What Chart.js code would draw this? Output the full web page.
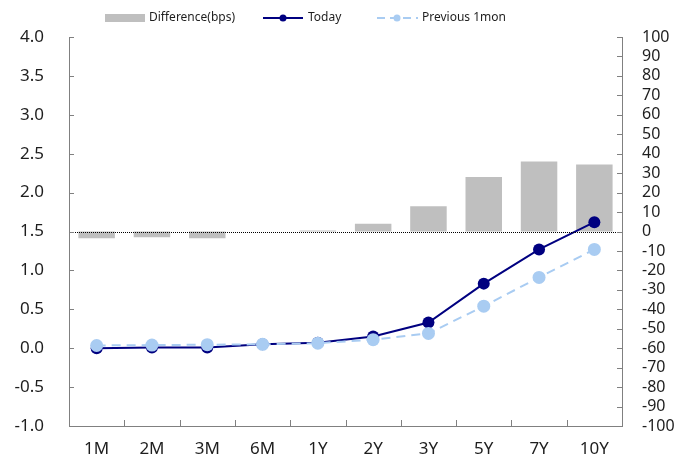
<!DOCTYPE html>
<html>
<head>
<meta charset="utf-8">
<script src="https://cdn.jsdelivr.net/npm/chart.js@4/dist/chart.umd.min.js"></script>
<style>
  html, body { margin: 0; padding: 0; background: #ffffff; }
  #wrap { width: 697px; height: 464px; position: relative; }
</style>
</head>
<body>
<div id="wrap"><canvas id="c" width="697" height="464"></canvas></div>
<script>
// Tenors along the curve
const tenors = ['1M', '2M', '3M', '6M', '1Y', '2Y', '3Y', '5Y', '7Y', '10Y'];
// Yields (%)
const today = [0.00, 0.01, 0.01, 0.05, 0.07, 0.15, 0.33, 0.83, 1.27, 1.62];
const prev1m = [0.035, 0.04, 0.045, 0.05, 0.065, 0.11, 0.19, 0.54, 0.91, 1.27];
// Change over the month (bps)
const diffBps = [-3.5, -3, -3.5, 0, 0.5, 4, 13, 28, 36, 34.5];

const legendLabels = ['Difference(bps)', 'Today', 'Previous 1mon'];

const FONT = "'Noto Sans', 'Open Sans', sans-serif";
const AXIS = '#808080';
const TEXT = '#1e1e1e';
const NAVY = '#000080';
const LIGHT = '#a9ccf2';
const GREY = '#bfbfbf';

// Inner tick marks, the zero line of the bps axis and the legend
const decor = {
  id: 'decor',
  afterDatasetsDraw(chart) {
    const { ctx, chartArea: a, scales } = chart;
    ctx.save();
    // dotted zero line for the difference bars
    const y0 = Math.round(scales.y2.getPixelForValue(0)) + 0.5;
    ctx.strokeStyle = '#000';
    ctx.lineWidth = 1;
    ctx.setLineDash([1, 1]);
    ctx.beginPath();
    ctx.moveTo(a.left, y0);
    ctx.lineTo(a.right, y0);
    ctx.stroke();
    ctx.setLineDash([]);
    ctx.restore();
  },
  afterDraw(chart) {
    const { ctx, chartArea: a, scales } = chart;
    ctx.save();
    ctx.strokeStyle = AXIS;
    ctx.lineWidth = 1;
    ctx.beginPath();
    scales.y.ticks.forEach((t, i) => {
      const y = Math.round(scales.y.getPixelForTick(i)) + 0.5;
      ctx.moveTo(a.left, y); ctx.lineTo(a.left + 5, y);
    });
    scales.y2.ticks.forEach((t, i) => {
      const y = Math.round(scales.y2.getPixelForTick(i)) + 0.5;
      ctx.moveTo(a.right, y); ctx.lineTo(a.right - 5, y);
    });
    for (let i = 1; i < tenors.length; i++) {
      const x = Math.round((scales.x.getPixelForValue(i - 1) + scales.x.getPixelForValue(i)) / 2) + 0.5;
      ctx.moveTo(x, a.bottom); ctx.lineTo(x, a.bottom - 6);
    }
    ctx.stroke();

    // legend
    const ly = 18;
    ctx.font = '12px ' + FONT;
    ctx.fillStyle = TEXT;
    ctx.textBaseline = 'middle';
    ctx.fillStyle = GREY;
    ctx.fillRect(105, 14, 40, 8);
    ctx.fillStyle = TEXT;
    ctx.fillText(legendLabels[0], 149, ly);

    ctx.strokeStyle = NAVY;
    ctx.lineWidth = 2;
    ctx.beginPath(); ctx.moveTo(263, ly); ctx.lineTo(303, ly); ctx.stroke();
    ctx.fillStyle = NAVY;
    ctx.beginPath(); ctx.arc(283, ly, 3.5, 0, Math.PI * 2); ctx.fill();
    ctx.fillStyle = TEXT;
    ctx.fillText(legendLabels[1], 308, ly);

    ctx.strokeStyle = LIGHT;
    ctx.setLineDash([8, 5]);
    ctx.beginPath(); ctx.moveTo(377, ly); ctx.lineTo(418, ly); ctx.stroke();
    ctx.setLineDash([]);
    ctx.fillStyle = LIGHT;
    ctx.beginPath(); ctx.arc(397, ly, 3.5, 0, Math.PI * 2); ctx.fill();
    ctx.fillStyle = TEXT;
    ctx.fillText(legendLabels[2], 422, ly);
    ctx.restore();
  }
};

new Chart(document.getElementById('c'), {
  type: 'bar',
  data: {
    labels: tenors,
    datasets: [
      {
        type: 'line', label: legendLabels[2], data: prev1m, yAxisID: 'y',
        borderColor: LIGHT, backgroundColor: LIGHT, borderWidth: 2, borderDash: [9, 6],
        pointRadius: 6.5, pointHoverRadius: 6.5, pointBackgroundColor: LIGHT, pointBorderWidth: 0,
        order: 1, tension: 0
      },
      {
        type: 'line', label: legendLabels[1], data: today, yAxisID: 'y',
        borderColor: NAVY, backgroundColor: NAVY, borderWidth: 2,
        pointRadius: 6, pointHoverRadius: 6, pointBackgroundColor: NAVY, pointBorderWidth: 0,
        order: 2, tension: 0
      },
      {
        type: 'bar', label: legendLabels[0], data: diffBps, yAxisID: 'y2',
        backgroundColor: GREY, borderWidth: 0,
        categoryPercentage: 1, barPercentage: 0.66, order: 3
      }
    ]
  },
  options: {
    responsive: false,
    animation: false,
    layout: { padding: { top: 37, left: 0, right: 0, bottom: 0 } },
    plugins: { legend: { display: false }, tooltip: { enabled: false } },
    scales: {
      x: {
        offset: true,
        grid: { display: false, drawTicks: false },
        border: { display: true, color: AXIS, width: 1 },
        ticks: { color: TEXT, font: { family: FONT, size: 17 }, padding: 13, maxRotation: 0 },
        afterFit(s) { s.height = 38; }
      },
      y: {
        position: 'left', min: -1, max: 4,
        grid: { display: false, drawTicks: false },
        border: { display: true, color: AXIS, width: 1 },
        ticks: { stepSize: 0.5, color: TEXT, font: { family: FONT, size: 17 }, padding: 25,
                 callback: v => Number(v).toFixed(1) },
        afterFit(s) { s.width = 69; }
      },
      y2: {
        position: 'right', min: -100, max: 100,
        grid: { display: false, drawTicks: false },
        border: { display: true, color: AXIS, width: 1 },
        ticks: { stepSize: 10, autoSkip: false, color: TEXT, font: { family: FONT, size: 16 }, padding: 20 },
        afterFit(s) { s.width = 75; }
      }
    }
  },
  plugins: [decor]
});
</script>
</body>
</html>
